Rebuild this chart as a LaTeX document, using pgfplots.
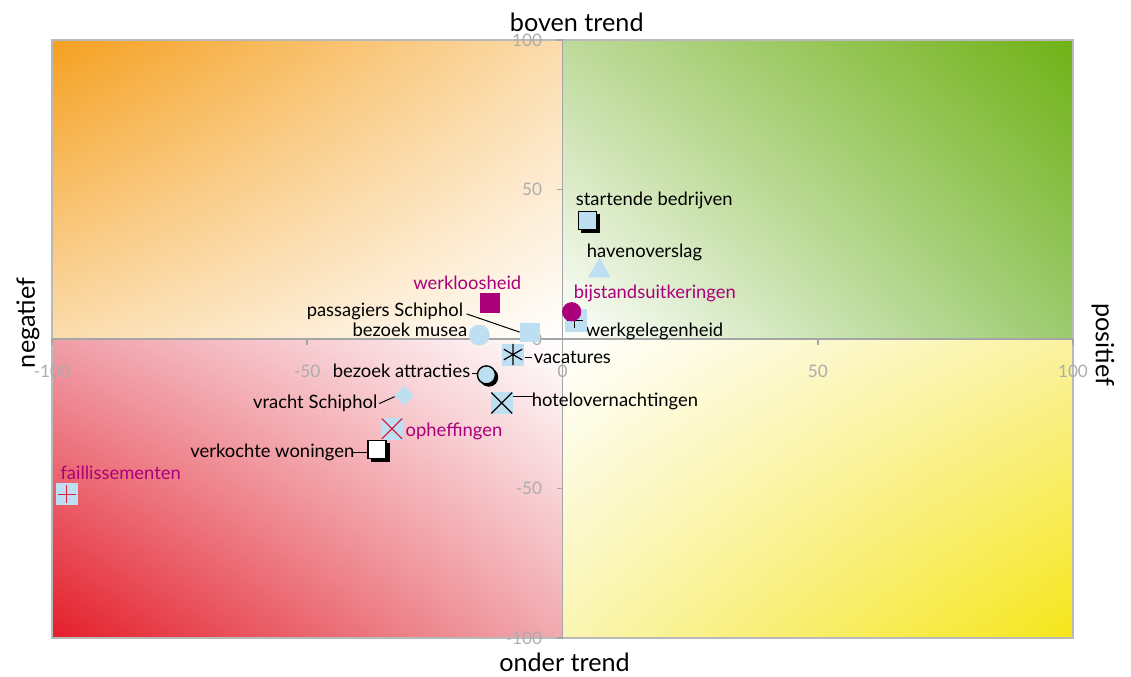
\documentclass[border=0pt]{standalone}
\usepackage{pgfplots}
\pgfplotsset{compat=1.18}
\usepackage{fontspec}
\setmainfont{Lato}
\usetikzlibrary{shadings}

\definecolor{lichtblauw}{RGB}{190,222,242}
\definecolor{paars}{RGB}{170,0,122}
\definecolor{kruisrood}{RGB}{222,32,58}
\definecolor{asgrijs}{RGB}{165,165,165}
\definecolor{kadergrijs}{RGB}{185,185,185}
\definecolor{tickgrijs}{RGB}{172,172,172}
\definecolor{oranje}{RGB}{245,160,32}
\definecolor{oranjelicht}{RGB}{251,220,172}
\definecolor{groen}{RGB}{112,178,22}
\definecolor{groenlicht}{RGB}{190,218,155}
\definecolor{groenmid}{RGB}{155,202,110}
\definecolor{rood}{RGB}{228,30,42}
\definecolor{roodlicht}{RGB}{240,158,168}
\definecolor{roodlicht2}{RGB}{241,170,176}
\definecolor{geel}{RGB}{246,230,26}
\definecolor{geellicht}{RGB}{250,242,160}
\definecolor{geellicht2}{RGB}{250,245,178}

\begin{document}
\begin{tikzpicture}[font=\fontsize{9.2}{11}\selectfont,
  lbl/.style={inner sep=0pt, font=\fontsize{9.2}{11}\selectfont},
  ttl/.style={inner sep=0pt, font=\fontsize{12.6}{14}\selectfont}]
\begin{axis}[
  name=ax,
  set layers,
  scale only axis,
  width=510.5pt, height=299pt,
  xmin=-100, xmax=100, ymin=-100, ymax=100,
  axis lines=center,
  axis line style={-, draw=asgrijs, line width=0.8pt},
  clip=false,
  xtick={-100,-50,0,50,100},
  ytick={-100,-50,0,50,100},
  xticklabels={-100,-50,0,50,100},
  yticklabels={-100,-50,0,50,100},
  hide obscured x ticks=false,
  hide obscured y ticks=false,
  tick style={draw=asgrijs, line width=0.8pt},
  major tick length=3pt,
  tick align=outside,
  ticklabel style={text=tickgrijs, font=\fontsize{8.6}{10}\selectfont, inner sep=0pt},
  xticklabel style={anchor=center, yshift=-13pt},
  yticklabel style={anchor=east, xshift=-7pt},
]
\begin{pgfonlayer}{axis background}
\shade[upper left=oranje, upper right=oranjelicht, lower left=oranjelicht, lower right=white]
  (axis cs:-100,0) rectangle (axis cs:0,100);
\shade[upper left=groenlicht, upper right=groen, lower left=white, lower right=groenmid]
  (axis cs:0,0) rectangle (axis cs:100,100);
\shade[upper left=roodlicht, upper right=white, lower left=rood, lower right=roodlicht2]
  (axis cs:-100,-100) rectangle (axis cs:0,0);
\shade[upper left=white, upper right=geellicht, lower left=geellicht2, lower right=geel]
  (axis cs:0,-100) rectangle (axis cs:100,0);
\draw[kadergrijs, line width=0.6pt] (rel axis cs:0,0) rectangle (rel axis cs:1,1);
\end{pgfonlayer}

% schaduwen
\addplot[only marks, color=black, mark=square*, mark size=4.5pt,
  mark options={xshift=1.4pt, yshift=-1.4pt}]
  coordinates {(4.9,39.6) (-36.3,-36.9)};
\addplot[only marks, color=black, mark=*, mark size=4.5pt,
  mark options={xshift=1.2pt, yshift=-1.2pt}]
  coordinates {(-14.9,-12.0)};

% lichtblauwe vierkanten
\addplot[only marks, color=lichtblauw, mark=square*, mark size=4.7pt]
  coordinates {(-6.4,2.2)};
\addplot[only marks, color=lichtblauw, mark=square*, mark size=5.3pt]
  coordinates {(2.55,6.2) (-9.7,-5.2) (-11.9,-21.4) (-33.4,-30.0) (-97.1,-51.9)};
\addplot[only marks, mark=square*, mark size=4.5pt, mark options={fill=lichtblauw, draw=black, line width=0.7pt}]
  coordinates {(4.9,39.6)};
\addplot[only marks, mark=square*, mark size=4.5pt, mark options={fill=white, draw=black, line width=0.7pt}]
  coordinates {(-36.3,-36.9)};

% cirkels, driehoek, ruit
\addplot[only marks, color=lichtblauw, mark=*, mark size=5pt]
  coordinates {(-16.3,1.3)};
\addplot[only marks, mark=*, mark size=4.5pt, mark options={fill=lichtblauw, draw=black, line width=0.7pt}]
  coordinates {(-14.9,-12.0)};
\addplot[only marks, color=lichtblauw, mark=triangle*, mark size=6.2pt]
  coordinates {(7.25,22.8)};
\addplot[only marks, color=lichtblauw, mark=square*, mark size=3.3pt, mark options={rotate=45}]
  coordinates {(-31.0,-18.9)};

% kruisjes e.d.
\addplot[only marks, color=black, mark=+, mark size=4pt, mark options={line width=0.7pt}]
  coordinates {(2.4,6.2)};
\addplot[only marks, color=black, mark=x, mark size=7.4pt, mark options={line width=0.6pt}]
  coordinates {(-11.9,-21.4)};
\addplot[only marks, color=black, mark=asterisk, mark size=5.3pt, mark options={line width=0.6pt}]
  coordinates {(-9.7,-5.2)};
\addplot[only marks, color=kruisrood, mark=x, mark size=7.2pt, mark options={line width=0.6pt}]
  coordinates {(-33.4,-30.0)};
\addplot[only marks, color=kruisrood, mark=+, mark size=4.6pt, mark options={line width=0.6pt}]
  coordinates {(-97.1,-51.9)};

% paars
\addplot[only marks, color=paars, mark=square*, mark size=4.8pt]
  coordinates {(-14.3,12.2)};
\addplot[only marks, color=paars, mark=*, mark size=4.6pt]
  coordinates {(1.8,9.1)};

% verbindingslijntjes
\draw[black, line width=0.5pt] (axis cs:-18.8,8.4) -- (axis cs:-8.4,2.3);
\draw[black, line width=0.5pt] (axis cs:-7.4,-6.35) -- (axis cs:-5.9,-6.35);
\draw[black, line width=0.5pt] (axis cs:-17.8,-11.7) -- (axis cs:-16.5,-11.7);
\draw[black, line width=0.5pt] (axis cs:-35.9,-21.6) -- (axis cs:-32.9,-19.3);
\draw[black, line width=0.5pt] (axis cs:-9.7,-19.1) -- (axis cs:-5.5,-19.1);
\draw[black, line width=0.5pt] (axis cs:-41.0,-37.8) -- (axis cs:-37.9,-37.8);

% labels
\node[lbl, anchor=base west] at (axis cs:2.55,44.8) {startende bedrijven};
\node[lbl, anchor=base west] at (axis cs:4.7,27.4) {havenoverslag};
\node[lbl, anchor=base west, text=paars] at (axis cs:2.15,13.7) {bijstandsuitkeringen};
\node[lbl, anchor=base west] at (axis cs:4.5,0.67) {werkgelegenheid};
\node[lbl, anchor=base east, text=paars] at (axis cs:-8.0,16.4) {werkloosheid};
\node[lbl, anchor=base east] at (axis cs:-19.4,7.4) {passagiers Schiphol};
\node[lbl, anchor=base east] at (axis cs:-18.6,0.67) {bezoek musea};
\node[lbl, anchor=base west] at (axis cs:-5.7,-8.2) {vacatures};
\node[lbl, anchor=base east] at (axis cs:-18.0,-13.0) {bezoek attracties};
\node[lbl, anchor=base east] at (axis cs:-36.2,-23.1) {vracht Schiphol};
\node[lbl, anchor=base west] at (axis cs:-6.1,-22.6) {hotelovernachtingen};
\node[lbl, anchor=base west, text=paars] at (axis cs:-30.8,-32.6) {opheffingen};
\node[lbl, anchor=base east] at (axis cs:-40.7,-39.5) {verkochte woningen};
\node[lbl, anchor=base west, text=paars] at (axis cs:-98.4,-46.9) {faillissementen};

% aslabels
\node[ttl, anchor=base] at ([yshift=4pt]rel axis cs:0.514,1) {boven trend};
\node[ttl, anchor=base] at ([yshift=-17pt]rel axis cs:0.502,0) {onder trend};
\node[ttl, rotate=90, anchor=center] at ([xshift=-12pt]rel axis cs:0,0.527) {negatief};
\node[ttl, rotate=-90, anchor=center] at ([xshift=15pt]rel axis cs:1,0.49) {positief};
\end{axis}
\pgfresetboundingbox
\path[use as bounding box] ([xshift=-26pt,yshift=-19.5pt]ax.south west)
  rectangle ([xshift=29pt,yshift=20pt]ax.north east);
\end{tikzpicture}
\end{document}
